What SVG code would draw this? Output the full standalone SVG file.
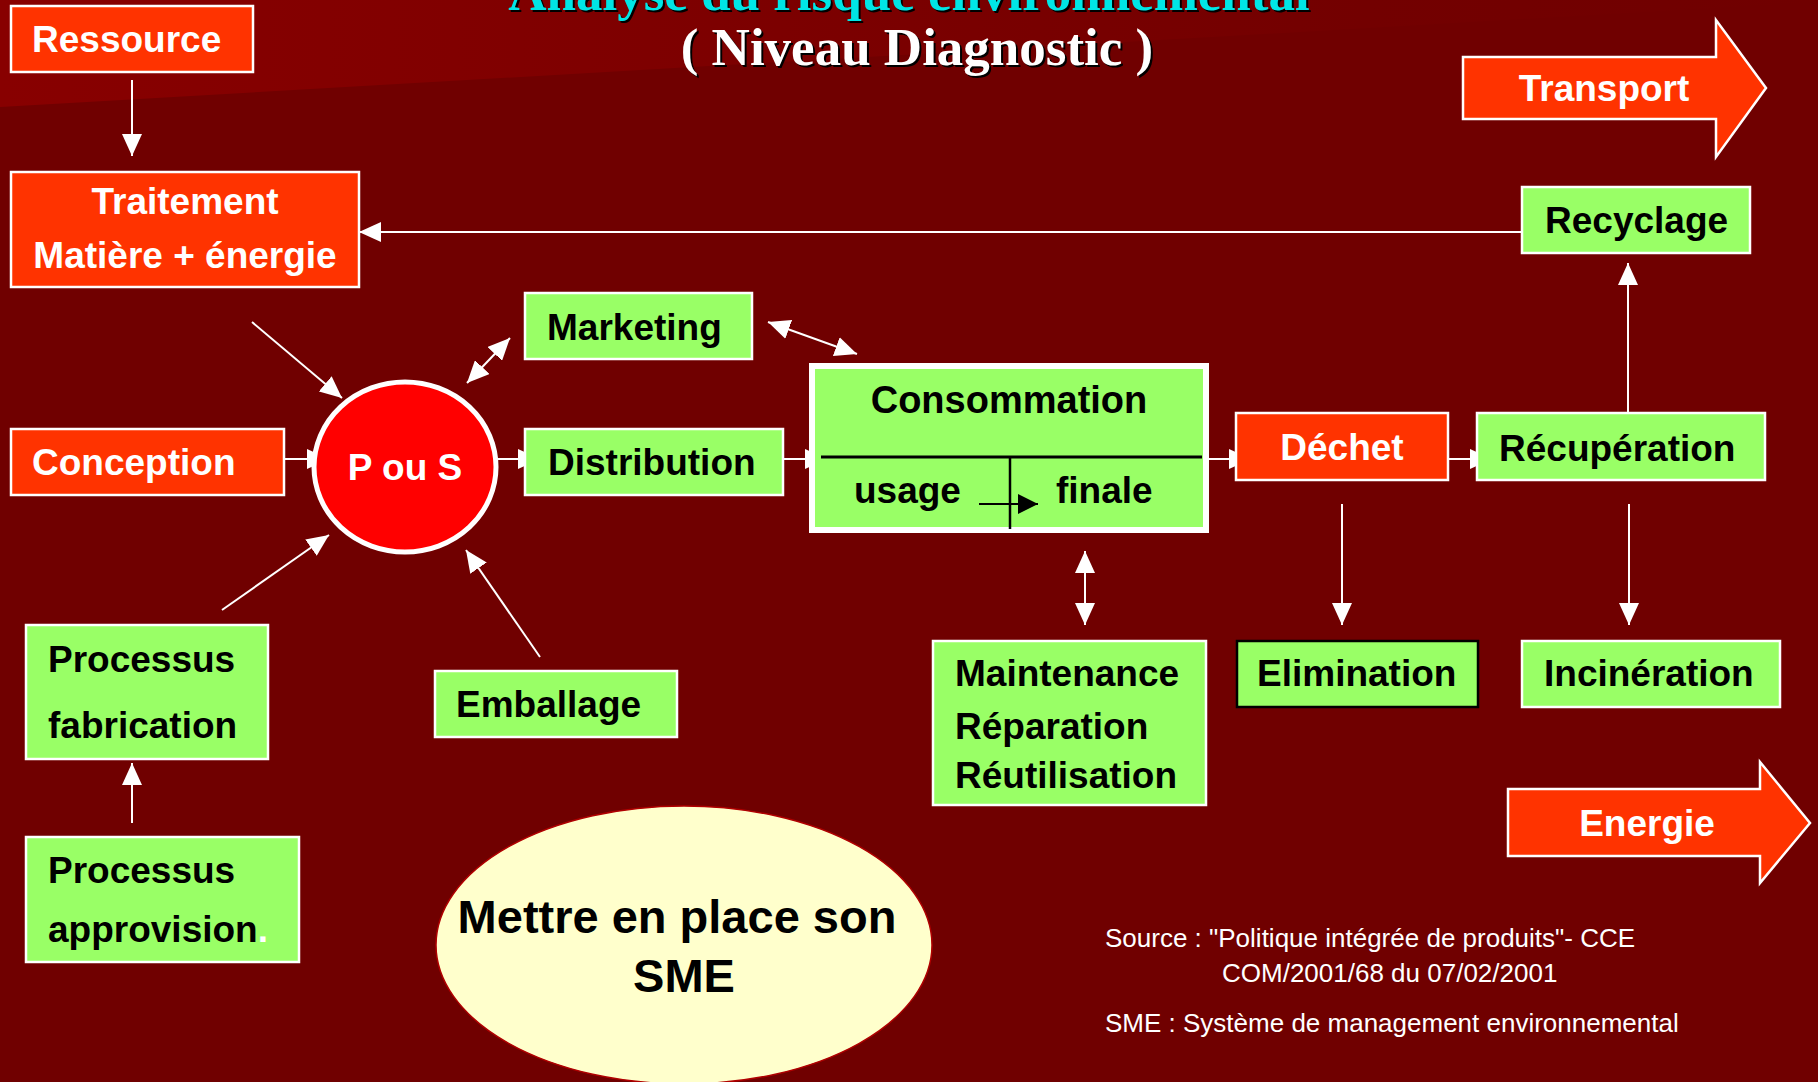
<svg xmlns="http://www.w3.org/2000/svg" width="1818" height="1082" viewBox="0 0 1818 1082">
<defs>
<linearGradient id="band" x1="0" y1="0" x2="1" y2="0">
<stop offset="0" stop-color="#880000"/>
<stop offset="0.75" stop-color="#730000"/>
<stop offset="1" stop-color="#700000"/>
</linearGradient>
<marker id="ah" viewBox="0 0 22 20" refX="22" refY="10" markerWidth="22" markerHeight="20" markerUnits="userSpaceOnUse" orient="auto-start-reverse">
<path d="M0,0 L22,10 L0,20 z" fill="#ffffff"/>
</marker>
<marker id="ahb" viewBox="0 0 20 20" refX="20" refY="10" markerWidth="20" markerHeight="20" markerUnits="userSpaceOnUse" orient="auto">
<path d="M0,0 L20,10 L0,20 z" fill="#000000"/>
</marker>
</defs>
<style>
.org{fill:#ff3300;stroke:#ffffff;stroke-width:2.5}
.grn{fill:#99ff66;stroke:#ffffff;stroke-width:2.5}
.lbl{font-family:"Liberation Sans",Arial,sans-serif;font-weight:bold;font-size:37px}
.big{font-size:47px}
.cons{font-size:38px}
.w{fill:#ffffff}
.k{fill:#000000}
.con line{stroke:#ffffff;stroke-width:2}
.note{font-family:"Liberation Sans",Arial,sans-serif;font-size:26px;fill:#ffffff}
.title{font-family:"Liberation Serif","Times New Roman",serif;font-weight:bold;font-size:53px}
</style>
<rect x="0" y="0" width="1818" height="1082" fill="#700000"/>
<polygon points="0,0 1818,0 1818,2 0,107" fill="url(#band)"/>

<g id="title">
<text class="title" x="911" y="12" text-anchor="middle" fill="#000000">Analyse du risque environnemental</text>
<text class="title" x="909" y="10" text-anchor="middle" fill="#00e6e6">Analyse du risque environnemental</text>
<text class="title" x="919" y="67" text-anchor="middle" fill="#000000">( Niveau Diagnostic )</text>
<text class="title" x="917" y="65" text-anchor="middle" fill="#ffffff">( Niveau Diagnostic )</text>
</g>

<g id="connectors" class="con">
<line x1="132" y1="80" x2="132" y2="156" marker-end="url(#ah)"/>
<line x1="1522" y1="232" x2="359" y2="232" marker-end="url(#ah)"/>
<line x1="252" y1="322" x2="342" y2="398" marker-end="url(#ah)"/>
<line x1="268" y1="459" x2="329" y2="459" marker-end="url(#ah)"/>
<line x1="480" y1="459" x2="540" y2="459" marker-end="url(#ah)"/>
<line x1="766" y1="459" x2="827" y2="459" marker-end="url(#ah)"/>
<line x1="1209" y1="459" x2="1251" y2="459" marker-end="url(#ah)"/>
<line x1="1431" y1="459" x2="1492" y2="459" marker-end="url(#ah)"/>
<line x1="1628" y1="413" x2="1628" y2="263" marker-end="url(#ah)"/>
<line x1="1629" y1="504" x2="1629" y2="625" marker-end="url(#ah)"/>
<line x1="1342" y1="504" x2="1342" y2="625" marker-end="url(#ah)"/>
<line x1="1085" y1="551" x2="1085" y2="625" marker-start="url(#ah)" marker-end="url(#ah)"/>
<line x1="467" y1="383" x2="510" y2="338" marker-start="url(#ah)" marker-end="url(#ah)"/>
<line x1="768" y1="322" x2="857" y2="354" marker-start="url(#ah)" marker-end="url(#ah)"/>
<line x1="222" y1="610" x2="329" y2="535" marker-end="url(#ah)"/>
<line x1="540" y1="657" x2="466" y2="550" marker-end="url(#ah)"/>
<line x1="132" y1="823" x2="132" y2="763" marker-end="url(#ah)"/>
</g>

<g id="ressource">
<rect class="org" x="11" y="6" width="242" height="66"/>
<text class="lbl w" x="32" y="52">Ressource</text>
</g>
<g id="traitement">
<rect class="org" x="11" y="172" width="348" height="115"/>
<text class="lbl w" x="185" y="214" text-anchor="middle">Traitement</text>
<text class="lbl w" x="185" y="268" text-anchor="middle">Matière + énergie</text>
</g>
<g id="transport">
<polygon class="org" points="1463,57 1716,57 1716,20 1766,88 1716,157 1716,119 1463,119"/>
<text class="lbl w" x="1604" y="101" text-anchor="middle">Transport</text>
</g>
<g id="recyclage">
<rect class="grn" x="1522" y="187" width="228" height="66"/>
<text class="lbl k" x="1545" y="233">Recyclage</text>
</g>
<g id="marketing">
<rect class="grn" x="525" y="293" width="227" height="66"/>
<text class="lbl k" x="547" y="340">Marketing</text>
</g>
<g id="conception">
<rect class="org" x="11" y="429" width="273" height="66"/>
<text class="lbl w" x="32" y="475">Conception</text>
</g>
<g id="pous">
<ellipse cx="405" cy="467" rx="91" ry="85" fill="#ff0000" stroke="#ffffff" stroke-width="5"/>
<text class="lbl w" x="405" y="480" text-anchor="middle">P ou S</text>
</g>
<g id="distribution">
<rect class="grn" x="525" y="429" width="258" height="66"/>
<text class="lbl k" x="548" y="475">Distribution</text>
</g>
<g id="consommation">
<rect x="812" y="366" width="394" height="164" fill="#99ff66" stroke="#ffffff" stroke-width="6"/>
<line x1="821" y1="457" x2="1202" y2="457" stroke="#000000" stroke-width="3"/>
<line x1="1010" y1="457" x2="1010" y2="529" stroke="#000000" stroke-width="2.5"/>
<line x1="979" y1="504" x2="1038" y2="504" stroke="#000000" stroke-width="2" marker-end="url(#ahb)"/>
<text class="lbl cons k" x="1009" y="413" text-anchor="middle">Consommation</text>
<text class="lbl k" x="854" y="503">usage</text>
<text class="lbl k" x="1056" y="503">finale</text>
</g>
<g id="dechet">
<rect class="org" x="1236" y="413" width="212" height="67"/>
<text class="lbl w" x="1342" y="460" text-anchor="middle">Déchet</text>
</g>
<g id="recuperation">
<rect class="grn" x="1477" y="413" width="288" height="67"/>
<text class="lbl k" x="1499" y="461">Récupération</text>
</g>
<g id="maintenance">
<rect class="grn" x="933" y="641" width="273" height="164"/>
<text class="lbl k" x="955" y="686">Maintenance</text>
<text class="lbl k" x="955" y="739">Réparation</text>
<text class="lbl k" x="955" y="788">Réutilisation</text>
</g>
<g id="elimination">
<rect x="1237" y="641" width="241" height="66" fill="#99ff66" stroke="#000000" stroke-width="2.5"/>
<text class="lbl k" x="1257" y="686">Elimination</text>
</g>
<g id="incineration">
<rect class="grn" x="1522" y="641" width="258" height="66"/>
<text class="lbl k" x="1544" y="686">Incinération</text>
</g>
<g id="energie">
<polygon class="org" points="1508,789 1760,789 1760,762 1810,823 1760,883 1760,856 1508,856"/>
<text class="lbl w" x="1647" y="836" text-anchor="middle">Energie</text>
</g>
<g id="fabrication">
<rect class="grn" x="26" y="625" width="242" height="134"/>
<text class="lbl k" x="48" y="672">Processus</text>
<text class="lbl k" x="48" y="738">fabrication</text>
</g>
<g id="emballage">
<rect class="grn" x="435" y="671" width="242" height="66"/>
<text class="lbl k" x="456" y="717">Emballage</text>
</g>
<g id="approvision">
<rect class="grn" x="26" y="837" width="273" height="125"/>
<text class="lbl k" x="48" y="883">Processus</text>
<text class="lbl k" x="48" y="942">approvision<tspan fill="#ffffff">.</tspan></text>
</g>
<g id="sme">
<ellipse cx="684" cy="945" rx="248" ry="139" fill="#ffffcc" stroke="#b00000" stroke-width="1.5"/>
<text class="lbl big k" x="677" y="933" text-anchor="middle">Mettre en place son</text>
<text class="lbl big k" x="684" y="992" text-anchor="middle">SME</text>
</g>
<g id="notes">
<text class="note" x="1105" y="947">Source : "Politique intégrée de produits"- CCE</text>
<text class="note" x="1222" y="982">COM/2001/68 du 07/02/2001</text>
<text class="note" x="1105" y="1032">SME : Système de management environnemental</text>
</g>
</svg>
